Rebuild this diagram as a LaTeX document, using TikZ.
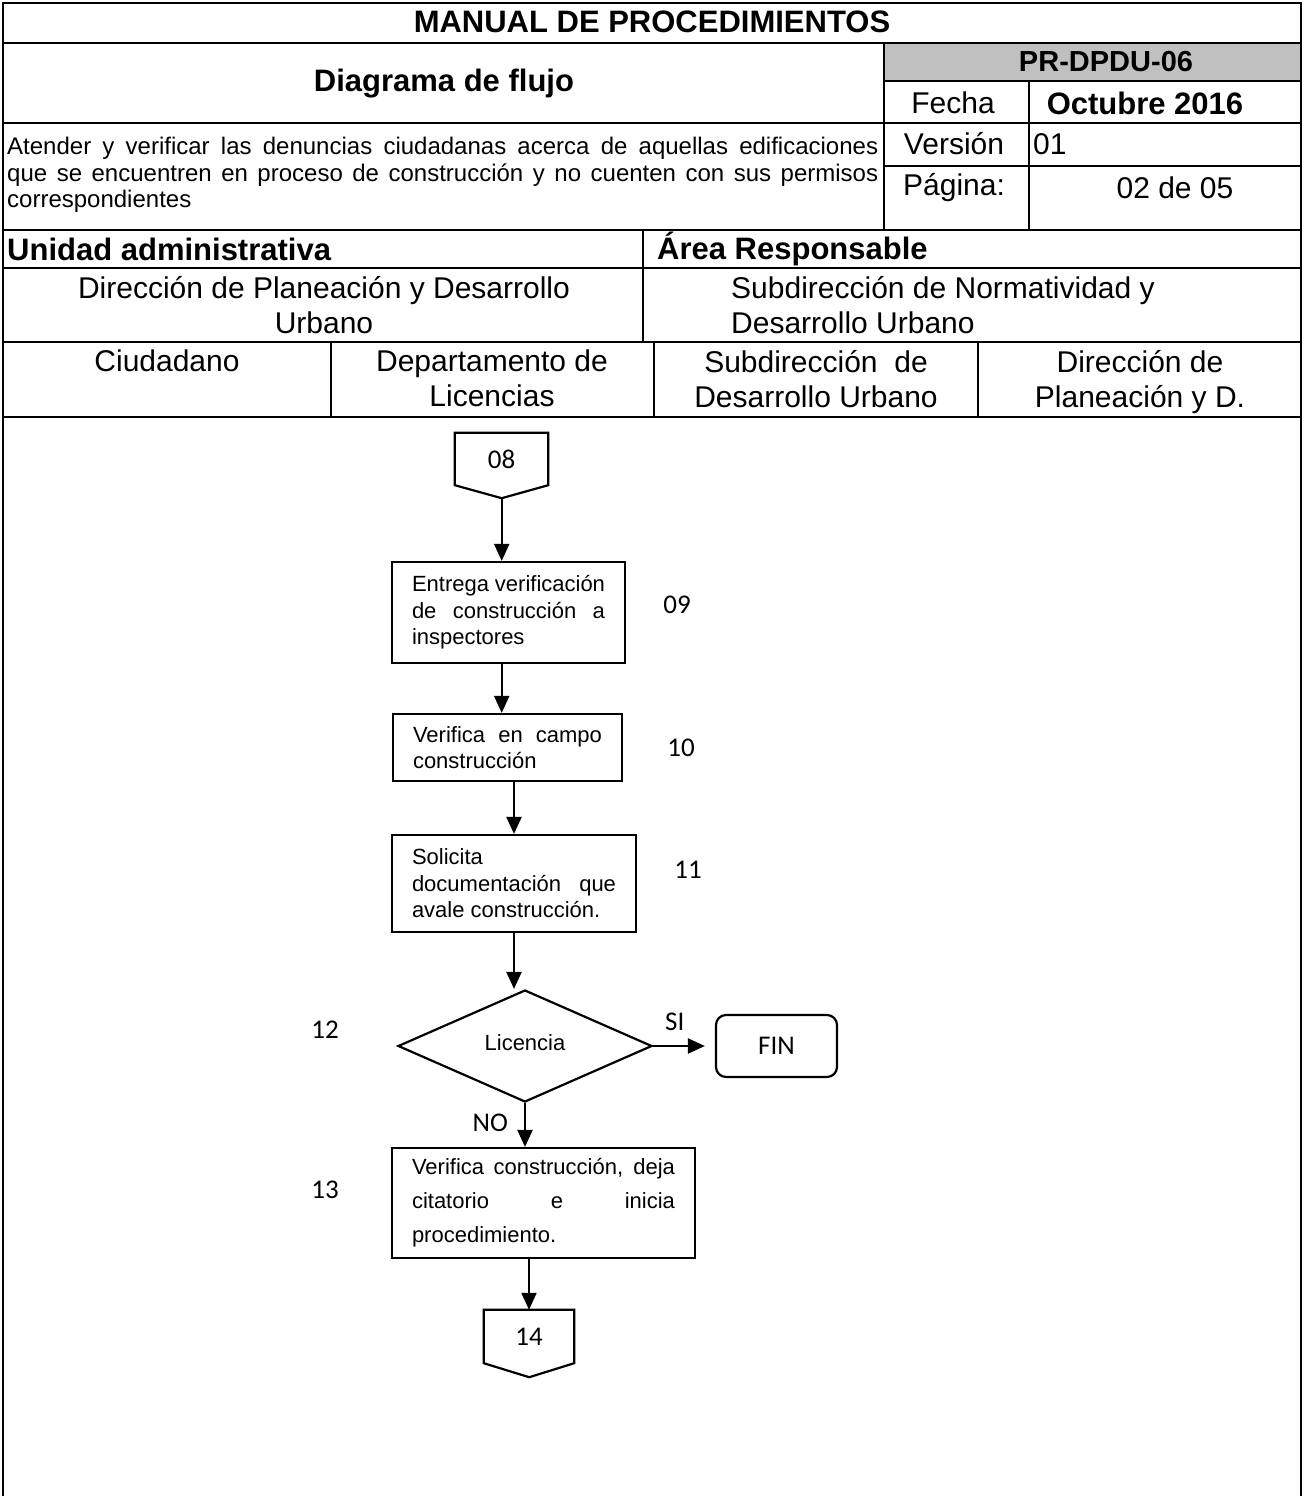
\documentclass[tikz,border=0pt]{standalone}
\usepackage{fontspec}
\setmainfont{Liberation Sans}
\newfontfamily\numfont{Carlito}
\usetikzlibrary{arrows.meta,shapes.geometric}
\definecolor{hdg}{HTML}{C0C0C0}
\hyphenpenalty=10000
\exhyphenpenalty=10000
\newcommand\fsT{\fontsize{31}{35}\selectfont}
\newcommand\fsC{\fontsize{30}{35}\selectfont}
\newcommand\fsD{\fontsize{24}{26.5}\selectfont}
\newcommand\fsB{\fontsize{22}{26.5}\selectfont}
\newcommand\fsN{\numfont\fontsize{27}{30}\selectfont}

\begin{document}
\begin{tikzpicture}[x=1pt,y=-1pt,
  rule/.style={line width=2pt},
  hd/.style={font=\fsT\bfseries,inner sep=0},
  cell/.style={font=\fsC,inner sep=0,align=center},
  desc/.style={anchor=north west,font=\fsD,inner sep=0,text width=871pt,align=justify},
  proc/.style={draw,line width=2.2pt,font=\fsB,align=justify,inner xsep=20pt,inner ysep=0pt},
  opg/.style={font=\fsN,inner sep=0pt},
  dec/.style={draw,diamond,line width=2.2pt,font=\fsB,inner sep=0pt,minimum width=254pt,minimum height=112pt},
  term/.style={draw,rounded corners=10pt,line width=2.2pt,font=\fsN,minimum width=121pt,minimum height=62pt},
  num/.style={font=\fsN,inner sep=0pt},
  edge/.style={line width=2.2pt,line join=miter},
  arr/.style={line width=2.2pt,-{Triangle[length=17pt,width=15pt]}}]
\useasboundingbox (0,0) rectangle (1304,1496);
% ============ header table ============
\fill[hdg] (884,43) rectangle (1301,81);
\draw[rule] (3,1496) -- (3,3) -- (1301,3) -- (1301,1496);
\foreach \y in {43,123,230,268,342,417} {\draw[rule] (3,\y) -- (1301,\y);}
\draw[rule] (884,81) -- (1301,81);
\draw[rule] (884,166) -- (1301,166);
\draw[rule] (884,43) -- (884,230);
\draw[rule] (1029,81) -- (1029,230);
\draw[rule] (643,230) -- (643,342);
\foreach \x in {331,654,978} {\draw[rule] (\x,342) -- (\x,417);}
\node[hd] (ttl) at (652,22) {MANUAL DE PROCEDIMIENTOS};
\node[hd] (dgm) at (444,84) {Diagrama de flujo};
\node[hd,font=\fontsize{29}{33}\selectfont\bfseries] (cod) at (1106,62) {PR-DPDU-06};
\node[cell] (fch) at (953,103) {Fecha};
\node[hd] (oct) at (1145,103) {Octubre 2016};
\node[cell] (ver) at (954,144) {Versión};
\node[cell,anchor=west] (vno) at (1033,144) {01};
\node[cell] (pag) at (954,188) {Página:};
\node[cell] (pno) at (1175,188) {02 de 05};
\node[desc] (obj) at (7,137) {Atender y verificar las denuncias ciudadanas acerca de aquellas edificaciones\linebreak
  que se encuentren en proceso de construcción y no cuenten con sus permisos\linebreak correspondientes};
% ============ units and lanes ============
\node[hd,anchor=west] (uad) at (7,249) {Unidad administrativa};
\node[hd,anchor=west] (are) at (657,249) {Área Responsable};
\node[cell,anchor=north] (dpd) at (324,276) {Dirección de Planeación y Desarrollo\\Urbano};
\node[cell,anchor=north west,align=left] (snd) at (731,276) {Subdirección de Normatividad y\\Desarrollo Urbano};
\node[cell,anchor=north] (ciu) at (167,350) {Ciudadano};
\node[cell,anchor=north] (dlc) at (492,350) {Departamento de\\Licencias};
\node[cell,anchor=north] (sdu) at (816,350) {Subdirección \ de\\Desarrollo Urbano};
\node[cell,anchor=north] (dpl) at (1140,350) {Dirección de\\Planeación y D.};
% ============ flow ============
\node[opg,minimum width=93pt,minimum height=52pt] (c08) at (501.5,459) {\raisebox{-4pt}{08}};
\draw[edge] (c08.north west) -- (c08.north east) -- (c08.south east) -- ++(-46.5,13) coordinate (c08tip) -- (c08.south west) -- cycle;
\node[proc,text width=193pt,minimum height=101pt] (b09) at (508.5,612.5) {Entrega verificación\linebreak de construcción a\linebreak inspectores};
\node[num] (n09) at (677,605) {09};
\node[proc,text width=189pt,minimum height=67pt] (b10) at (507.5,747.5) {Verifica en campo\linebreak construcción};
\node[num] (n10) at (681,748) {10};
\node[proc,text width=204pt,minimum height=97pt] (b11) at (514,883.5) {Solicita\newline documentación que\linebreak avale construcción.};
\node[num] (n11) at (688,870) {11};
\node[dec] (d12) at (525,1046) {\raisebox{6pt}{Licencia}};
\node[num] (n12) at (325,1030) {12};
\node[term] (fin) at (776.5,1046) {FIN};
\node[proc,text width=263pt,minimum height=110pt,font=\fontsize{22}{34}\selectfont] (b13) at (543.5,1203) {Verifica construcción, deja\linebreak citatorio e inicia\linebreak procedimiento.};
\node[num] (n13) at (325,1190) {13};
\node[opg,minimum width=90pt,minimum height=53pt] (c14) at (529,1336.5) {\raisebox{-3pt}{14}};
\draw[edge] (c14.north west) -- (c14.north east) -- (c14.south east) -- ++(-45,14) -- (c14.south west) -- cycle;
% connectors
\draw[arr] (c08tip) -- (c08tip |- b09.north);
\draw[arr] (b09.south -| c08tip) -- (b10.north -| c08tip);
\draw[arr] (b10.south -| b11.north) -- (b11.north);
\draw[arr] (b11.south) -- (b11.south |- d12.north);
\draw[arr,shorten >=10pt] (d12.east) -- (fin.west) node[num,pos=0.35,above=14pt] {SI};
\draw[arr] (d12.south) -- (d12.south |- b13.north) node[num,pos=0.45,left=16pt] {NO};
\draw[arr] (c14.north |- b13.south) -- (c14.north);
\end{tikzpicture}
\end{document}
